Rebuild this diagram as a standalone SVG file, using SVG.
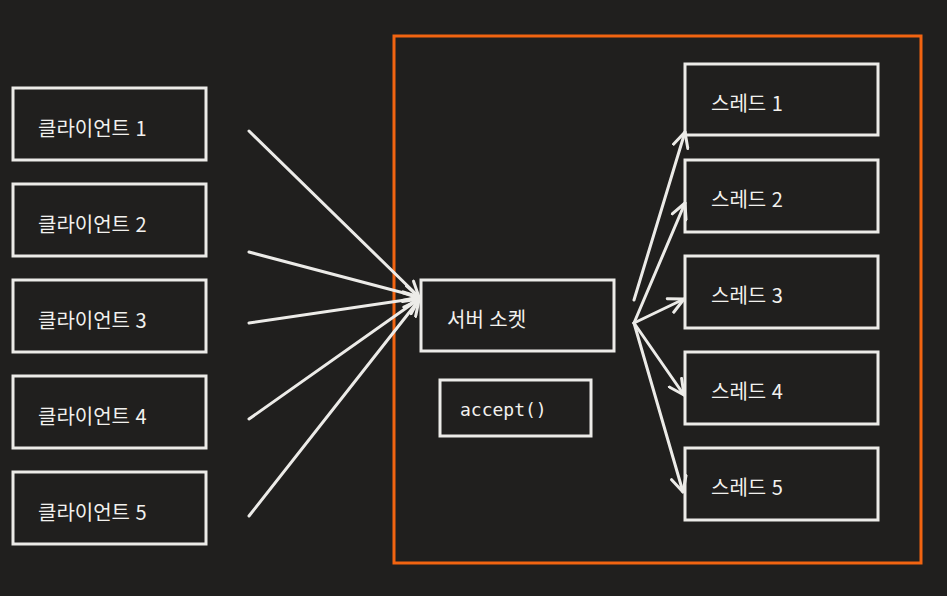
<svg xmlns="http://www.w3.org/2000/svg" width="947" height="596" viewBox="0 0 947 596">
<defs>
<style>
.box{fill:#201f1e;stroke:#ecebe8;stroke-width:3}
.frame{fill:none;stroke:#f26411;stroke-width:3}
.t{font-family:"Noto Sans CJK KR","Noto Sans",sans-serif;font-size:20px;word-spacing:1px;fill:#f2f1ee}
.m{font-family:"DejaVu Sans Mono","Liberation Mono",monospace;font-size:18px;fill:#f2f1ee}
.c{fill:none;stroke:#ecebe8;stroke-width:3;stroke-linecap:round;stroke-linejoin:round}
</style>
<marker id="ah" viewBox="0 0 12 12" refX="11" refY="6" markerWidth="6" markerHeight="6" markerUnits="strokeWidth" orient="auto">
<path d="M1,1 L11,6 L1,11" fill="none" stroke="#ecebe8" stroke-width="2" stroke-linecap="round" stroke-linejoin="round"/>
</marker>
</defs>
<rect width="947" height="596" fill="#201f1e"/>
<rect id="server-frame" class="frame" x="394" y="36" width="527" height="527"/>
<g id="client1"><rect class="box" x="13" y="88" width="193" height="72"/><text class="t" x="38" y="136">클라이언트 1</text></g>
<g id="client2"><rect class="box" x="13" y="184" width="193" height="72"/><text class="t" x="38" y="232">클라이언트 2</text></g>
<g id="client3"><rect class="box" x="13" y="280" width="193" height="72"/><text class="t" x="38" y="328">클라이언트 3</text></g>
<g id="client4"><rect class="box" x="13" y="376" width="193" height="72"/><text class="t" x="38" y="424">클라이언트 4</text></g>
<g id="client5"><rect class="box" x="13" y="472" width="193" height="72"/><text class="t" x="38" y="520">클라이언트 5</text></g>
<g id="server-socket"><rect class="box" x="421" y="280" width="193" height="71"/><text class="t" x="447" y="327">서버 소켓</text></g>
<g id="accept"><rect class="box" x="440" y="380" width="151" height="56"/><text class="m" x="460" y="416">accept()</text></g>
<g id="thread1"><rect class="box" x="685" y="64" width="193" height="71"/><text class="t" x="711" y="111">스레드 1</text></g>
<g id="thread2"><rect class="box" x="685" y="160" width="193" height="72"/><text class="t" x="711" y="207">스레드 2</text></g>
<g id="thread3"><rect class="box" x="685" y="256" width="193" height="72"/><text class="t" x="711" y="303">스레드 3</text></g>
<g id="thread4"><rect class="box" x="685" y="352" width="193" height="72"/><text class="t" x="711" y="399">스레드 4</text></g>
<g id="thread5"><rect class="box" x="685" y="448" width="193" height="72"/><text class="t" x="711" y="495">스레드 5</text></g>
<g id="connectors">
<line class="c" x1="249" y1="131" x2="419" y2="297" marker-end="url(#ah)"/>
<line class="c" x1="249" y1="252" x2="419" y2="297" marker-end="url(#ah)"/>
<line class="c" x1="249" y1="323" x2="419" y2="298" marker-end="url(#ah)"/>
<line class="c" x1="249" y1="419" x2="419" y2="299" marker-end="url(#ah)"/>
<line class="c" x1="249" y1="516" x2="419" y2="300" marker-end="url(#ah)"/>
<line class="c" x1="634" y1="300" x2="685" y2="132" marker-end="url(#ah)"/>
<line class="c" x1="634" y1="323" x2="685" y2="203" marker-end="url(#ah)"/>
<line class="c" x1="634" y1="323" x2="684" y2="299" marker-end="url(#ah)"/>
<line class="c" x1="634" y1="323" x2="684" y2="395" marker-end="url(#ah)"/>
<line class="c" x1="634" y1="323" x2="683" y2="492" marker-end="url(#ah)"/>
</g>
</svg>
